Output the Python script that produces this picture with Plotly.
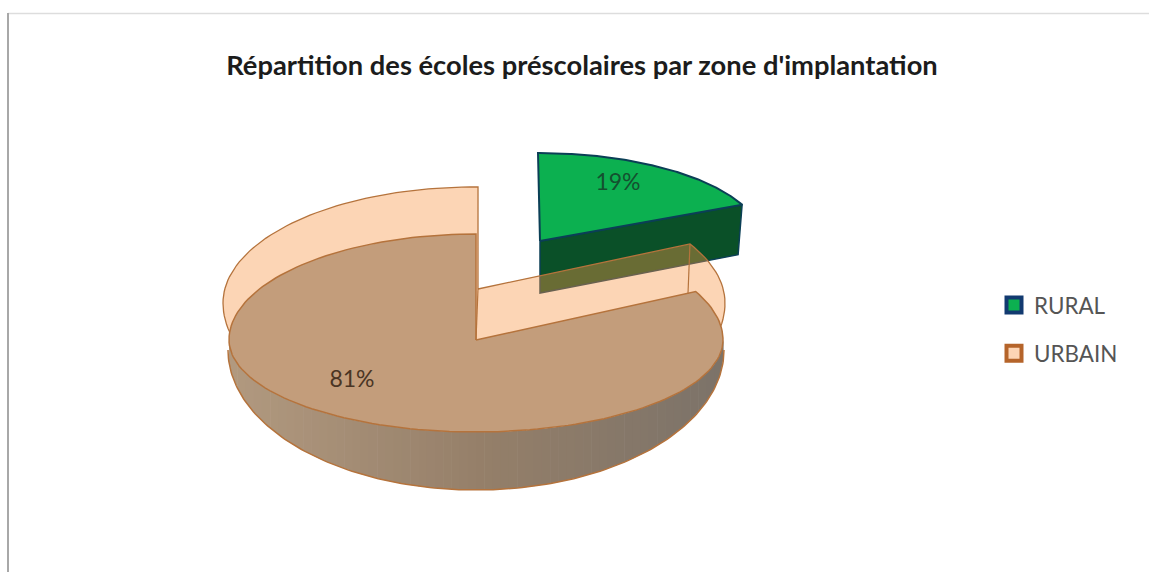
import numpy as np
import plotly.graph_objects as go

categories = ["RURAL", "URBAIN"]
shares = [19, 81]
title = "Répartition des écoles préscolaires par zone d'implantation"

W, H = 1149, 572
BROWN = "#b5733c"
FONT = "Lato, Carlito, 'Open Sans', sans-serif"

rural_sweep = 2 * np.pi * shares[0] / sum(shares)


def arc(d, start, end, n=160):
    """Points on a projected disc; angle 0 is the back, angles run clockwise."""
    t = np.linspace(start, end, n)
    v = np.cos(t)
    ry = np.where(v >= 0, d["back"], d["front"])
    return d["cx"] + d["rx"] * np.sin(t), d["cy"] - ry * v


def sector(d, start, end):
    x, y = arc(d, start, end)
    return (np.r_[d["ax"], x, d["ax"]], np.r_[d["ay"], y, d["ay"]])


def poly(fig, x, y, fill, line=None, width=0.0):
    fig.add_trace(go.Scatter(
        x=x, y=y, mode="lines", fill="toself", fillcolor=fill,
        line=dict(color=line or "rgba(0,0,0,0)", width=width),
        hoverinfo="skip", showlegend=False))


def stroke(fig, x, y, color=BROWN, width=1.5):
    fig.add_trace(go.Scatter(x=x, y=y, mode="lines", line=dict(color=color, width=width),
                             hoverinfo="skip", showlegend=False))


# projected discs of the two slices
rural_top = dict(cx=538, cy=241, rx=224, back=88, front=88, ax=540, ay=241)
urban_back = dict(cx=474, cy=303, rx=251, back=116, front=128, ax=478, ay=289)
urban_top = dict(cx=476, cy=340, rx=247, back=106, front=92, ax=476, ay=340)
urban_base = dict(cx=476, cy=350, rx=248, back=106, front=140, ax=476, ay=350)

fig = go.Figure()

# ---- exploded rural slice
end_r = rural_sweep * 0.96
rx_, ry_ = arc(rural_top, 0, end_r)
DROP = 51
poly(fig, [rural_top["ax"], rx_[-1], rx_[-1] - 4, rural_top["ax"], rural_top["ax"]],
     [rural_top["ay"], ry_[-1], ry_[-1] + DROP - 1, rural_top["ay"] + DROP + 1, rural_top["ay"]],
     "#0a5028", "#0b3f56", 1.5)
sx, sy = sector(rural_top, 0, end_r)
poly(fig, sx, sy, "#0cb050", "#0b3f56", 2)

# ---- urban outer wall, drawn as shaded strips
fx, fy = arc(urban_top, np.pi / 2, 3 * np.pi / 2)
bx, by = arc(urban_base, np.pi / 2, 3 * np.pi / 2)
order_f, order_b = np.argsort(fx), np.argsort(bx)
edges = np.linspace(fx.min(), fx.max(), 61)
c0, c1, c2 = np.array([178, 154, 128]), np.array([150, 128, 106]), np.array([124, 115, 105])
for a, b in zip(edges[:-1], edges[1:]):
    xs = np.linspace(a, b + 0.6, 4)
    up = np.interp(xs, fx[order_f], fy[order_f])
    lo = np.interp(xs, bx[order_b], by[order_b])
    f = ((a + b) / 2 - edges[0]) / (edges[-1] - edges[0])
    c = c0 + (c1 - c0) * f * 2 if f < 0.5 else c1 + (c2 - c1) * (f - 0.5) * 2
    col = "rgb(%d,%d,%d)" % tuple(c)
    poly(fig, np.r_[xs, xs[::-1]], np.r_[up, lo[::-1]], col)
stroke(fig, bx, by)

# ---- translucent back wall and cut faces of the urban slice
end_back = rural_sweep * 0.868
sx, sy = sector(urban_back, end_back, 2 * np.pi + 0.016)
poly(fig, sx, sy, "rgba(248,150,70,0.40)", BROWN, 1.3)

# ---- urban top face
end_top = rural_sweep * 0.918
sx, sy = sector(urban_top, end_top, 2 * np.pi)
poly(fig, sx, sy, "#c39d7b", BROWN, 1.5)

# vertical edges of the cut faces
px, py = arc(urban_back, end_back, end_back, 1)
stroke(fig, [px[0], px[0] - 2], [py[0], py[0] + 50], width=1.2)
stroke(fig, [urban_back["ax"], urban_top["ax"]], [urban_back["ay"], urban_top["ay"]], width=1.2)

# ---- percentage labels
fig.add_trace(go.Scatter(
    x=[618, 352], y=[184, 381], mode="text",
    text=[f"{v}%" for v in shares],
    textposition="middle center",
    textfont=dict(family=FONT, size=23, color=["#14502f", "#4a3524"]),
    hoverinfo="skip", showlegend=False))

# ---- legend entries
for name, fill, edge in zip(categories, ["#0cb050", "#fdd5b5"], ["#123a70", "#b5642a"]):
    fig.add_trace(go.Scatter(
        x=[None], y=[None], mode="markers", name=name, legendgroup=name,
        marker=dict(symbol="square", size=15, color=fill, line=dict(color=edge, width=4))))

fig.update_layout(
    width=W, height=H, margin=dict(l=0, r=0, t=0, b=0),
    paper_bgcolor="white", plot_bgcolor="white",
    xaxis=dict(range=[0, W], visible=False, fixedrange=True),
    yaxis=dict(range=[H, 0], visible=False, fixedrange=True),
    title=dict(text=title, x=582 / W, y=1 - 65 / H, xanchor="center", yanchor="middle",
               font=dict(family=FONT, size=27.3, color="#1c1c1c", weight=700)),
    legend=dict(x=994 / W, y=1 - 284 / H, xanchor="left", yanchor="top",
                traceorder="grouped", tracegroupgap=16, itemwidth=30,
                bgcolor="rgba(0,0,0,0)",
                font=dict(family=FONT, size=22.4, color="#555555")),
    shapes=[
        dict(type="line", xref="x", yref="y", x0=8, x1=W, y0=13.5, y1=13.5,
             line=dict(color="#dddddd", width=1.5)),
        dict(type="line", xref="x", yref="y", x0=8, x1=8, y0=13, y1=H,
             line=dict(color="#a8a8a8", width=2)),
    ],
)

fig.write_html("out.html", config=dict(displayModeBar=False),
               post_script="document.body.style.margin='0';document.body.style.overflow='hidden';")
